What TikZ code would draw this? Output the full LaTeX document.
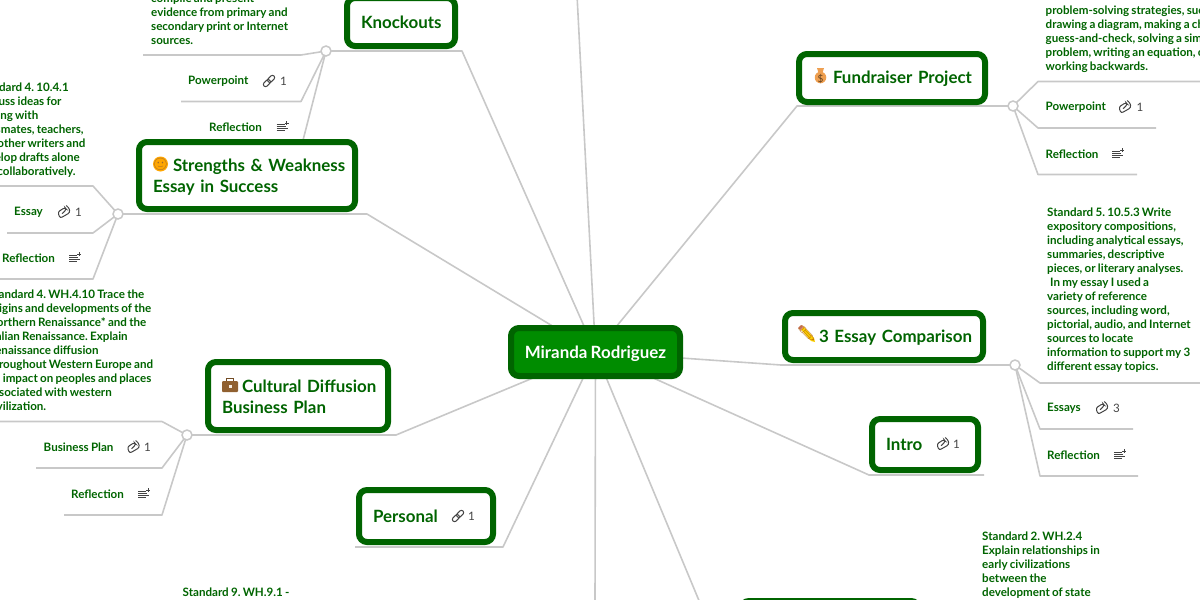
\documentclass[tikz,border=0pt]{standalone}
\usepackage{fontspec}
\setmainfont{Lato}[WordSpace=0.8]
\newfontfamily\headfamily{Lato}[WordSpace=0.55]
\newfontfamily\emojifont{Noto Emoji}
\usetikzlibrary{backgrounds}

\definecolor{mapgreen}{HTML}{006400}
\definecolor{rootgreen}{HTML}{008C00}
\definecolor{wiregray}{HTML}{C8C8C8}
\definecolor{icongray}{HTML}{444444}

\tikzset{
  headbox/.style={draw=mapgreen,line width=6pt,rounded corners=8pt,fill=white,text=mapgreen,
    font=\headfamily\fontsize{16.9}{21}\selectfont\bfseries\frenchspacing,inner xsep=14pt,inner ysep=0pt,align=left},
  rootbox/.style={draw=mapgreen,line width=6pt,rounded corners=8pt,fill=rootgreen,text=white,
    font=\fontsize{16.9}{21}\selectfont\bfseries,inner sep=0pt,align=center},
  leaftext/.style={text=mapgreen,font=\fontsize{11.6}{14}\selectfont\bfseries\frenchspacing,inner sep=0pt,align=left},
  leaflabel/.style={leaftext,anchor=west},
  countlabel/.style={text=icongray,font=\fontsize{11.6}{14}\selectfont,inner sep=0pt,anchor=west},
  dotnode/.style={circle,draw=wiregray,line width=1.5pt,fill=white,minimum size=10pt,inner sep=0pt},
  wire/.style={draw=wiregray,line width=1.6pt,line join=round},
  iconline/.style={draw=icongray,line width=1pt},
  emojinode/.style={inner sep=0pt,font=\emojifont\fontsize{12}{12}\selectfont}
}

\newcommand{\glyphonly}[1]{\makebox[0pt][c]{\raisebox{-0.4em}[0pt][0pt]{#1}}}
\newcommand{\headlift}[1]{\rule{0pt}{#1}}
\newcommand{\linkicon}[1]{
  \begin{scope}[shift={(#1)},rotate=45]
    \draw[iconline,rounded corners=2pt] (-7,-2.2) rectangle (1,2.2);
    \draw[iconline,rounded corners=2pt] (-1,-2.2) rectangle (7,2.2);
  \end{scope}}
\newcommand{\clipicon}[1]{
  \begin{scope}[shift={(#1)},rotate=30]
    \draw[iconline,rounded corners=2.2pt] (-2.5,0.5) -- (3.5,-1) -- (3,-3.5) -- (-5.5,-3) -- (-6.5,3.5) -- (5,3.5) -- (6.5,-1.5) -- (5,-4.5);
  \end{scope}}
\newcommand{\noteicon}[1]{
  \begin{scope}[shift={(#1)}]
    \draw[iconline] (-6,-3) -- (2,-3) (-6,-1) -- (3,-1) (-6,1) -- (5,1) (-6,3) -- (2,3);
    \draw[iconline] (4,-6) -- (4,-2) (2,-4) -- (6,-4);
  \end{scope}}

\begin{document}
\begin{tikzpicture}[x=1pt,y=-1pt]
  \useasboundingbox (0,0) rectangle (1200,600);
  \path[clip] (0,0) rectangle (1200,600);

  % main topics
  \node[rootbox,minimum width=169pt,minimum height=48pt] (miranda) at (595.5,352) {\headlift{16.5pt}Miranda Rodriguez};
  \node[headbox,text width=80pt,minimum height=48pt] (knockouts) at (401,22) {Knockouts};
  \node[headbox,text width=188pt,minimum height=67pt] (strengths) at (247,175.5) {\mbox{\headlift{16.5pt}\hspace*{20pt}Strengths \& Weakness}\\Essay in Success};
  \node[headbox,text width=152pt,minimum height=68pt] (cultural) at (298,396) {\mbox{\headlift{14.5pt}\hspace*{20pt}Cultural Diffusion}\\Business Plan};
  \node[headbox,text width=106pt,minimum height=52pt] (personal) at (426,516) {Personal};
  \node[headbox,text width=158pt,minimum height=48pt] (fundraiser) at (892,78) {\mbox{\headlift{14.5pt}\hspace*{20pt}Fundraiser Project}};
  \node[headbox,text width=170pt,minimum height=47pt] (comparison) at (884,336.5) {\mbox{\headlift{14.5pt}\hspace*{20pt}3 Essay Comparison}};
  \node[headbox,text width=78pt,minimum height=51pt] (intro) at (925,444.5) {Intro};
  \node[headbox,text width=150pt,minimum height=60pt] (lastbox) at (830,631) {};

  % emoji, a filled shape under the outline glyph
  \node[emojinode,circle,fill=orange!70!yellow,minimum size=15pt,text=brown!80!black] (smile) at (160.5,164) {\glyphonly{🙂}};
  \fill[brown!75!black,rounded corners=1pt] (222,381) rectangle (238,392);
  \draw[brown!60!black,line width=1pt] (226.5,381) -- (226.5,378) -- (233.5,378) -- (233.5,381);
  \fill[white!85!brown] (228.5,384.5) rectangle (231.5,388);
  \node[emojinode,circle,fill=orange!65!brown!75,minimum size=11.5pt,text=brown!50!black] (moneybag) at (820.5,77.5) {\glyphonly{\normalfont\fontsize{10}{10}\selectfont\$}};
  \fill[orange!65!brown!75] (817,68) -- (824,68) -- (822.5,73) -- (818.5,73) -- cycle;
  \fill[yellow!70!orange] (800.5,329) -- (803.5,326.5) -- (814,338) -- (815,342) -- (811,341) -- cycle;
  \fill[red!45!gray!70] (798,328) -- (801,325) -- (803.5,327) -- (800.5,330) -- cycle;
  \node[emojinode,text=orange!70!black,opacity=0.75] (pencil) at (806.5,334) {\glyphonly{\fontsize{15}{15}\selectfont ✏}};

  % small circles
  \node[dotnode] (knockoutsdot) at (326,51) {};
  \node[dotnode] (strengthsdot) at (118,214) {};
  \node[dotnode] (culturaldot) at (187,435) {};
  \node[dotnode] (fundraiserdot) at (1013,106) {};
  \node[dotnode] (comparisondot) at (1015,365) {};

  % bends and loose ends
  \coordinate (knockoutsknee) at (462,51);
  \coordinate (strengthsknee) at (367,214);
  \coordinate (culturalknee) at (396,435);
  \coordinate (fundraiserknee) at (797,106);
  \coordinate (comparisonknee) at (781,365);
  \coordinate (personalknee) at (503,547);
  \coordinate (personalend) at (355,547);
  \coordinate (introknee) at (869,475);
  \coordinate (introend) at (984,475);
  \coordinate (topend) at (577,-5);
  \coordinate (bottomend) at (595,605);
  \coordinate (lastend) at (705,615);

  \begin{scope}[on background layer]
    \path[clip] (0,0) rectangle (1200,600);
    \foreach \topic in {knockouts,strengths,cultural,fundraiser,comparison}
      \draw[wire] (\topic dot.center) -- (\topic knee) -- (miranda.center);
    \draw[wire] (personalend) -- (personalknee) -- (miranda.center);
    \draw[wire] (introend) -- (introknee) -- (miranda.center);
    \draw[wire] (topend) -- (miranda.center);
    \draw[wire] (bottomend) -- (miranda.center);
    \draw[wire] (lastend) -- (miranda.center);
    \foreach \topic/\kneex/\kneey/\endx [count=\n] in {
      knockouts/301/55/143, knockouts/301/101.5/181, knockouts/301/148/210,
      strengths/93/186/-10, strengths/93/233/7, strengths/93/279/-10,
      cultural/162/421.5/-10, cultural/162/468/36, cultural/162/515/64,
      fundraiser/1038/81.5/1210, fundraiser/1038/128/1156, fundraiser/1038/174.5/1137,
      comparison/1040/383/1210, comparison/1040/429/1133, comparison/1040/476/1138} {
      \coordinate (leafknee\n) at (\kneex,\kneey);
      \coordinate (leafend\n) at (\endx,\kneey);
      \draw[wire] (\topic dot.center) -- (leafknee\n) -- (leafend\n);
    }
  \end{scope}

  % long texts
  \node[leaftext,anchor=north west] (knockoutstext) at (151,-6.5) {compile and present\\evidence from primary and\\secondary print or Internet\\sources.};
  \node[leaftext,anchor=north west] (strengthstext) at (-24,82.5) {Standard 4. 10.4.1\\Discuss ideas for\\writing with\\classmates, teachers,\\and other writers and\\develop drafts alone\\and collaboratively.};
  \node[leaftext,anchor=north west] (culturaltext) at (-12,289.5) {Standard 4. WH.4.10 Trace the\\origins and developments of the\\Northern Renaissance* and the\\Italian Renaissance. Explain\\Renaissance diffusion\\throughout Western Europe and\\its impact on peoples and places\\associated with western\\civilization.};
  \node[leaftext,anchor=north west] (fundraisertext) at (1045.5,5.5) {problem-solving strategies, such as\\drawing a diagram, making a chart,\\guess-and-check, solving a simpler\\problem, writing an equation, or\\working backwards.};
  \node[leaftext,anchor=north west] (comparisontext) at (1047,207.5) {Standard 5. 10.5.3 Write\\expository compositions,\\including analytical essays,\\summaries, descriptive\\pieces, or literary analyses.\\\hspace*{3pt}In my essay I used a\\variety of reference\\sources, including word,\\pictorial, audio, and Internet\\sources to locate\\information to support my 3\\different essay topics.};
  \node[leaftext,anchor=north west] (statetext) at (982,531.5) {Standard 2. WH.2.4\\Explain relationships in\\early civilizations\\between the\\development of state};
  \node[leaftext,anchor=north west] (wh9text) at (182.5,587.5) {Standard 9. WH.9.1 -};

  % short labels
  \node[leaflabel] (powerpointa) at (188,81) {Powerpoint};
  \linkicon{269,81}
  \node[countlabel] (countpowerpointa) at (280,81) {1};
  \node[leaflabel] (reflectiona) at (209,127) {Reflection};
  \noteicon{282.5,127}
  \node[leaflabel] (essay) at (14,212) {Essay};
  \clipicon{64,212}
  \node[countlabel] (countessay) at (75,212) {1};
  \node[leaflabel] (reflectionb) at (2,258) {Reflection};
  \noteicon{75,258}
  \node[leaflabel] (businessplan) at (43.5,447) {Business Plan};
  \clipicon{133.5,447}
  \node[countlabel] (countbusinessplan) at (144,447) {1};
  \node[leaflabel] (reflectionc) at (71,494) {Reflection};
  \noteicon{144,494}
  \node[leaflabel] (powerpointb) at (1045.5,107) {Powerpoint};
  \clipicon{1125,107}
  \node[countlabel] (countpowerpointb) at (1136.5,107) {1};
  \node[leaflabel] (reflectiond) at (1045.5,154) {Reflection};
  \noteicon{1118,154}
  \node[leaflabel] (essays) at (1047,408) {Essays};
  \clipicon{1102,408}
  \node[countlabel] (countessays) at (1113,408) {3};
  \node[leaflabel] (reflectione) at (1047,455) {Reflection};
  \noteicon{1120,455}
  \linkicon{458,516}
  \node[countlabel] (countpersonal) at (468,516) {1};
  \clipicon{943,444}
  \node[countlabel] (countintro) at (953,444) {1};
\end{tikzpicture}
\end{document}
